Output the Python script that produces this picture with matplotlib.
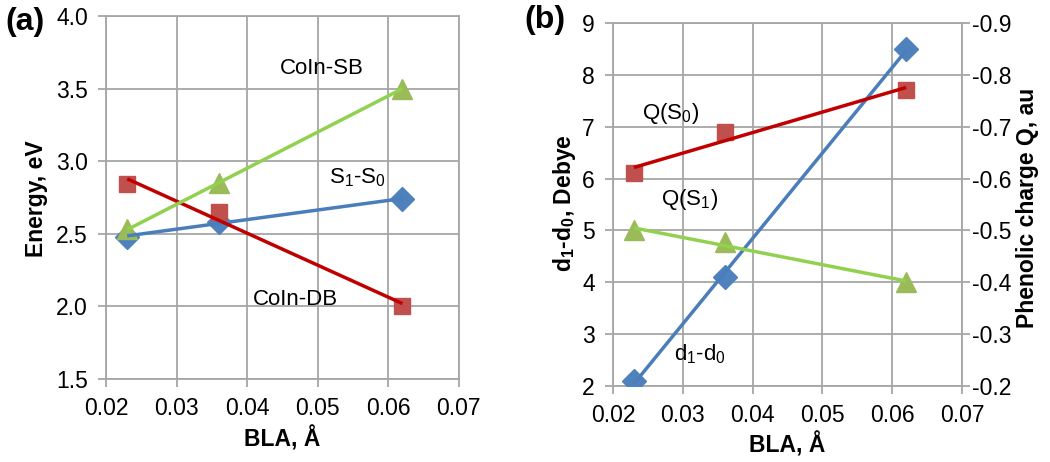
import numpy as np
import matplotlib
matplotlib.use("Agg")
import matplotlib.pyplot as plt
from matplotlib.ticker import FormatStrFormatter, MultipleLocator

plt.rcParams['font.family'] = ['Liberation Sans', 'DejaVu Sans']
plt.rcParams['axes.unicode_minus'] = False
plt.rcParams['mathtext.fontset'] = 'custom'
plt.rcParams['mathtext.rm'] = 'Liberation Sans'
plt.rcParams['mathtext.it'] = 'Liberation Sans'
plt.rcParams['mathtext.bf'] = 'Liberation Sans:bold'
plt.rcParams['mathtext.default'] = 'regular'

# BLA values, Angstrom
bla = [0.023, 0.036, 0.062]

# panel (a): energies, eV
e_s1s0 = [2.48, 2.58, 2.74]
e_db   = [2.84, 2.65, 2.00]
e_sb   = [2.53, 2.85, 3.50]

# panel (b): dipole change (Debye) and phenolic charge (au)
dipole = [2.1, 4.1, 8.5]
q_s0   = [-0.61, -0.69, -0.77]
q_s1   = [-0.50, -0.478, -0.40]

grid_c = '#A6A6A6'
blue_m, blue_l = '#4F81BD', '#4A7EBB'
red_m, red_l = '#C0504D', '#C00000'
green_m, green_l = '#9BBB59', '#92D050'

fs = 16.5
fs_note = 16


def trend(ax, x, y, color):
    # linear trendline over the data range, like the spreadsheet
    k, b = np.polyfit(x, y, 1)
    xx = np.array([min(x), max(x)])
    ax.plot(xx, k * xx + b, color=color, lw=2.5, zorder=4, solid_capstyle='butt')


def style(ax):
    ax.set_xlim(0.02, 0.07)
    ax.xaxis.set_major_locator(MultipleLocator(0.01))
    ax.xaxis.set_major_formatter(FormatStrFormatter('%.2f'))
    ax.grid(True, color=grid_c, lw=1.3)
    ax.set_axisbelow(True)
    for s in ax.spines.values():
        s.set_color(grid_c)
        s.set_linewidth(1.3)
    ax.tick_params(direction='out', length=6, width=1.3, color=grid_c,
                   labelsize=fs, pad=7)


fig = plt.figure(figsize=(10.5, 4.62), dpi=100)

# ---- panel (a) ----
ax1 = fig.add_axes([0.101, 0.1797, 0.336, 0.7857])
style(ax1)
ax1.set_ylim(1.5, 4.0)
ax1.yaxis.set_major_locator(MultipleLocator(0.5))
ax1.yaxis.set_major_formatter(FormatStrFormatter('%.1f'))

ax1.plot(bla, e_s1s0, 'D', color=blue_m, ms=12, zorder=3)
ax1.plot(bla, e_db, 's', color=red_m, ms=11.5, zorder=3)
ax1.plot(bla, e_sb, '^', color=green_m, ms=14, zorder=3)
trend(ax1, bla, e_s1s0, blue_l)
trend(ax1, bla, e_db, red_l)
trend(ax1, bla, e_sb, green_l)

ax1.text(0.0506, 3.635, 'CoIn-SB', fontsize=fs_note, ha='center', va='center')
ax1.text(0.0556, 2.884, 'S$_1$-S$_0$', fontsize=fs_note, ha='center', va='center')
ax1.text(0.0469, 2.05, 'CoIn-DB', fontsize=fs_note, ha='center', va='center')

ax1.set_xlabel('BLA, Å', fontsize=fs, fontweight='bold', va='center')
ax1.xaxis.set_label_coords(0.50, -0.165)
ax1.set_ylabel('Energy, eV', fontsize=fs, fontweight='bold', va='center')
ax1.yaxis.set_label_coords(-0.198, 0.496)
fig.text(0.005, 0.952, '(a)', fontsize=23, fontweight='bold', va='center')

# ---- panel (b) ----
ax2 = fig.add_axes([0.5838, 0.1645, 0.3324, 0.7857])
style(ax2)
ax2.set_ylim(2, 9)
ax2.yaxis.set_major_locator(MultipleLocator(1))
ax2.yaxis.set_major_formatter(FormatStrFormatter('%d'))

ax3 = ax2.twinx()
ax3.set_ylim(-0.2, -0.9)
ax3.yaxis.set_major_locator(MultipleLocator(0.1))
ax3.yaxis.set_major_formatter(FormatStrFormatter('%.1f'))
for s in ax3.spines.values():
    s.set_visible(False)
ax3.tick_params(direction='out', length=6, width=1.3, color=grid_c,
                labelsize=fs, pad=1)

ax2.plot(bla, dipole, 'D', color=blue_m, ms=12, zorder=3)
trend(ax2, bla, dipole, blue_l)
ax3.plot(bla, q_s0, 's', color=red_m, ms=11.5, zorder=3)
ax3.plot(bla, q_s1, '^', color=green_m, ms=14, zorder=3)
trend(ax3, bla, q_s0, red_l)
trend(ax3, bla, q_s1, green_l)

ax2.text(0.0283, 7.26, 'Q(S$_0$)', fontsize=fs_note, ha='center', va='center')
ax2.text(0.0310, 5.59, 'Q(S$_1$)', fontsize=fs_note, ha='center', va='center')
ax2.text(0.0324, 2.62, 'd$_1$-d$_0$', fontsize=fs_note, ha='center', va='center')

ax2.set_xlabel('BLA, Å', fontsize=fs, fontweight='bold', va='center')
ax2.xaxis.set_label_coords(0.50, -0.1625)
ax2.set_ylabel(r'd$_\mathbf{1}$-d$_\mathbf{0}$, Debye', fontsize=fs,
               fontweight='bold', va='center')
ax2.yaxis.set_label_coords(-0.1375, 0.504)
ax3.set_ylabel('Phenolic charge Q, au', fontsize=fs, fontweight='bold', va='center')
ax3.yaxis.set_label_coords(1.189, 0.49)
fig.text(0.499, 0.956, '(b)', fontsize=23, fontweight='bold', va='center')

fig.savefig('out.png', dpi=100)
